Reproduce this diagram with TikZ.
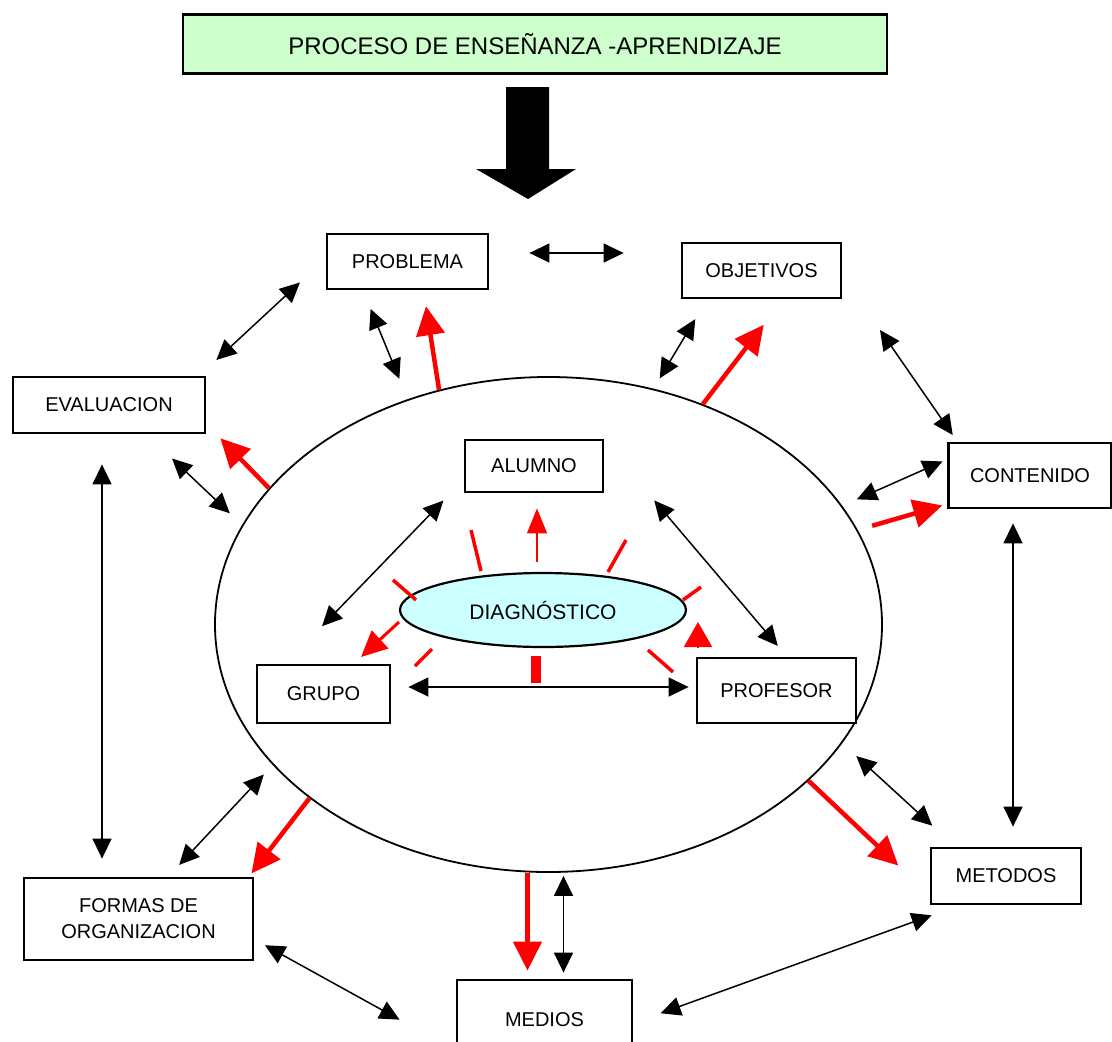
\documentclass[tikz,border=0pt]{standalone}
\usepackage{fontspec}
\setmainfont{Liberation Sans}
\usetikzlibrary{shapes,arrows.meta,positioning,calc}

\definecolor{titlegreen}{HTML}{CCFFCC}
\definecolor{diagcyan}{HTML}{CCFFFF}

\begin{document}
\begin{tikzpicture}[
    x=1pt, y=-1pt,
    box/.style={rectangle, draw, line width=2.8pt, fill=white, align=center, inner sep=0pt, font=\fontsize{20}{26}\selectfont},
    link/.style={line width=1.5pt, {Triangle[length=20pt,width=19pt]}-{Triangle[length=20pt,width=19pt]}},
    redarrow/.style={draw=red, line width=4.5pt, -{Triangle[length=29pt,width=28pt]}},
    redbit/.style={draw=red, line width=3.5pt}
]
\useasboundingbox (0,0) rectangle (1112,1042);

\node[box, fill=titlegreen, minimum width=704pt, minimum height=59pt, font=\fontsize{24}{28}\selectfont] (title) at (535,44) {PROCESO DE ENSEÑANZA -APRENDIZAJE};
\fill (506,87) -- (549,87) -- (549,169) -- (576,169) -- (528,199) -- (476,169) -- (506,169) -- cycle;

\node[ellipse, draw, line width=1.8pt, minimum width=667pt, minimum height=495pt, inner sep=0pt] (big) at (548.5,624.5) {};

\node[box, minimum width=161pt, minimum height=55pt] (problema) at (407.5,261.5) {PROBLEMA};
\node[box, minimum width=159pt, minimum height=55pt] (objetivos) at (761.5,270.5) {OBJETIVOS};
\node[box, minimum width=192pt, minimum height=56pt] (evaluacion) at (109,405) {EVALUACION};
\node[box, minimum width=163pt, minimum height=65pt] (contenido) at (1030,475.5) {CONTENIDO};
\node[box, minimum width=138pt, minimum height=52pt] (alumno) at (534,466) {ALUMNO};
\node[ellipse, draw, line width=2.2pt, fill=diagcyan, minimum width=286pt, minimum height=74pt, inner sep=0pt, font=\fontsize{21}{24}\selectfont] (diag) at (543,610) {DIAGNÓSTICO};
\node[box, minimum width=133pt, minimum height=58pt] (grupo) at (323.5,694) {GRUPO};
\node[box, minimum width=159pt, minimum height=65pt] (profesor) at (776.5,690.5) {PROFESOR};
\node[box, minimum width=229pt, minimum height=82pt] (formas) at (138.5,919) {FORMAS DE\\ORGANIZACION};
\node[box, minimum width=150pt, minimum height=56pt] (metodos) at (1006,876) {METODOS};
\node[box, minimum width=175pt, minimum height=80pt] (medios) at (544.5,1020) {MEDIOS};
\coordinate (cfree) at (880,330);

% outer ring
\draw[link, shorten <=40pt, shorten >=57pt] ([yshift=8.5pt]problema.east) -- ([yshift=8.5pt]problema.east -| objetivos.west);
\draw[link, shorten <=35pt, shorten >=23pt] (problema.178) -- (evaluacion.18);
\draw[link, shorten <=20pt, shorten >=22pt] (problema.213) -- (big.122);
\draw[redarrow, shorten >=16pt] (big.115) -- (problema.299);
\draw[link, shorten <=23pt, shorten >=12pt] (objetivos.208) -- (big.66);
\draw[redarrow, shorten >=32pt] (big.55) -- (objetivos.307);
\draw[link, shorten >=8pt] (cfree) -- (contenido.155);
\draw[link, shorten <=5pt, shorten >=16pt] (contenido.169) -- (big.22);
\draw[redarrow, shorten <=15pt, shorten >=5pt] (big.17) -- (contenido.199);
\draw[link, shorten <=35pt, shorten >=17pt] (evaluacion.322) -- (big.162);
\draw[redarrow, shorten >=20pt] (big.154) -- (evaluacion.349);
\draw[link, shorten <=30pt, shorten >=18pt] ([xshift=-7pt]evaluacion.south) -- ([xshift=-7pt]evaluacion.south |- formas.north);
\draw[link, shorten <=14pt, shorten >=20pt] ([xshift=-17pt]contenido.south) -- ([xshift=-17pt]contenido.south |- metodos.north);
\draw[link, shorten <=16pt, shorten >=13pt] (formas.55) -- (big.207);
\draw[redarrow, shorten >=4pt] (big.216) -- (formas.21);
\draw[link, shorten <=19pt, shorten >=31pt] (big.338) -- (metodos.150);
\draw[redarrow, shorten >=43pt] (big.329) -- (metodos.194);
\draw[redarrow, shorten >=8pt] ([xshift=-21pt]big.south) -- ([xshift=-21pt]big.south |- medios.north);
\draw[link, shorten <=3pt, shorten >=6pt] ([xshift=15pt]big.south) -- ([xshift=15pt]big.south |- medios.north);
\draw[link, shorten <=12pt, shorten >=64pt] (formas.350) -- (medios.199);
\draw[link, shorten <=29pt, shorten >=29pt] (metodos.212) -- (medios.358);

% inner triangle
\draw[link, shorten <=17pt, shorten >=7pt] ([yshift=3.5pt]profesor.west -| grupo.east) -- ([yshift=3.5pt]profesor.west);
\draw[link, shorten <=29pt, shorten >=52pt] (alumno.191) -- (grupo.141);
\draw[link, shorten <=77pt, shorten >=14pt] (alumno.19) -- (profesor.73);
\draw[draw=red, line width=1.5pt, -{Triangle[length=25pt,width=20pt]}, shorten <=10pt, shorten >=15pt] ([xshift=-6pt]diag.north) -- ([xshift=-6pt]diag.north |- alumno.south);

% red rays round the diagnosis
\foreach \a/\b/\c/\d in {-72/-80/-62/-39, 83/-70/65/-38, -150/-30/-127/-10, 158/-23/140/-10, -111/39/-128/56, 105/40/130/62}
    \draw[redbit] ([shift={(\a,\b)}]diag.center) -- ([shift={(\c,\d)}]diag.center);
\draw[draw=red, line width=10pt] ([shift={(-7,46)}]diag.center) -- ([shift={(-7,73)}]diag.center);
\draw[draw=red, line width=3pt, -{Triangle[length=26pt,width=24pt]}] ([shift={(-144,12)}]diag.center) -- ([shift={(-182,47)}]diag.center);
\draw[draw=red, line width=2pt, -{Triangle[length=25pt,width=28pt]}] ([shift={(155,38)}]diag.center) -- ([shift={(155,12)}]diag.center);

\end{tikzpicture}
\end{document}
